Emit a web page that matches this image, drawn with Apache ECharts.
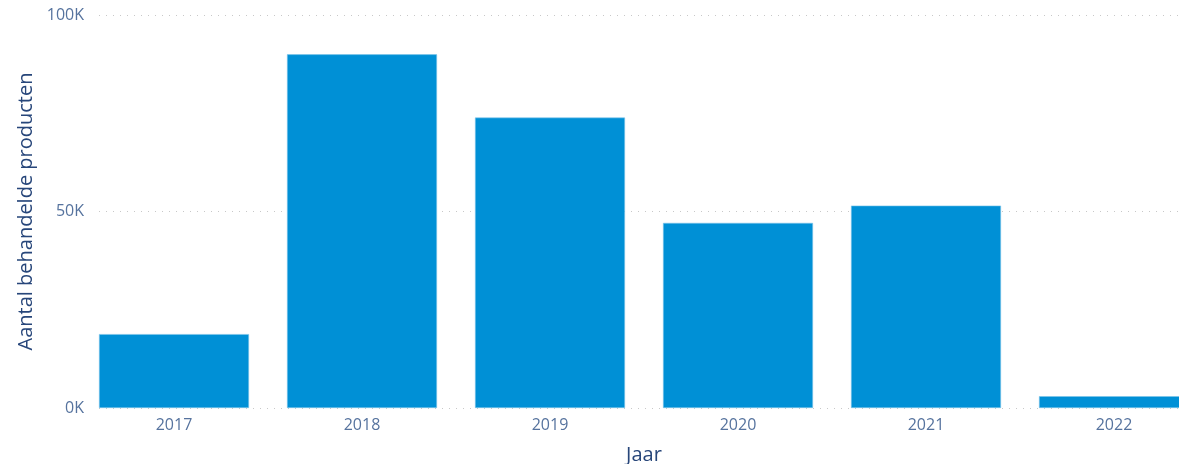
<!DOCTYPE html>
<html>
<head>
<meta charset="utf-8">
<script src="https://cdn.jsdelivr.net/npm/echarts@6/dist/echarts.min.js"></script>
<style>
  html, body { margin: 0; padding: 0; background: #fff; }
  #chart { width: 1179px; height: 464px; }
</style>
</head>
<body>
<div id="chart"></div>
<script>
const years = ['2017', '2018', '2019', '2020', '2021', '2022']
const products = [18800, 90000, 73900, 47100, 51500, 3000]
const yTicks = [0, 50000, 100000]

const labelColor = '#56739e'
const nameColor = '#27467a'
const font = '"Open Sans", "Noto Sans", sans-serif'

const chart = echarts.init(document.getElementById('chart'))

chart.setOption({
  animation: false,
  grid: [
    // grid for the value axis and its dotted gridlines
    { left: 99, right: 0, top: 15, bottom: 56, outerBoundsMode: 'none' },
    // grid for the bars (last band runs past the right edge)
    { left: 80, right: -29, top: 15, bottom: 56, outerBoundsMode: 'none' }
  ],
  xAxis: [
    { gridIndex: 0, type: 'category', data: years, show: false },
    {
      gridIndex: 1,
      type: 'category',
      data: years,
      axisLine: { show: false },
      axisTick: { show: false },
      axisLabel: { color: labelColor, fontSize: 16, fontFamily: font, margin: 9 },
      name: 'Jaar',
      nameLocation: 'middle',
      nameGap: 37,
      nameTextStyle: { color: nameColor, fontSize: 20, fontFamily: font }
    }
  ],
  yAxis: [
    {
      gridIndex: 0,
      type: 'value',
      min: yTicks[0],
      max: yTicks[yTicks.length - 1],
      interval: yTicks[1] - yTicks[0],
      axisLine: { show: false },
      axisTick: { show: false },
      axisLabel: {
        color: labelColor,
        fontSize: 16,
        fontFamily: font,
        margin: 15,
        formatter: (v) => v / 1000 + 'K'
      },
      splitLine: { lineStyle: { color: '#c8c8c8', type: [1, 6], width: 1 } },
      name: 'Aantal behandelde producten',
      nameLocation: 'middle',
      nameGap: 54,
      nameTextStyle: { color: nameColor, fontSize: 20, fontFamily: font }
    },
    {
      gridIndex: 1,
      type: 'value',
      min: yTicks[0],
      max: yTicks[yTicks.length - 1],
      show: false
    }
  ],
  series: [
    {
      type: 'bar',
      xAxisIndex: 1,
      yAxisIndex: 1,
      data: products,
      barWidth: 150,
      itemStyle: { color: '#0090d6', borderColor: '#7cc4ea', borderWidth: 0.6 }
    }
  ]
})
</script>
</body>
</html>
